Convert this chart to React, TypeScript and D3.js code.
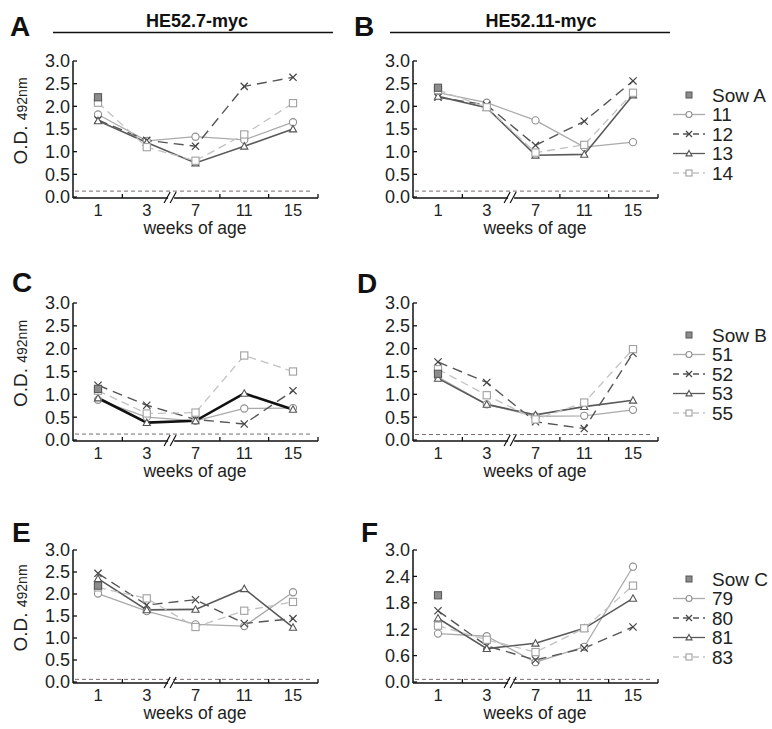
import React from "react";
import * as d3 from "d3";

// weeks of age on the x axis (3 -> 7 has an axis break)
const weeks = ["1", "3", "7", "11", "15"];
const panelLetters = ["A", "B", "C", "D", "E", "F"];
const constructs = ["HE52.7-myc", "HE52.11-myc"];
const sowNames = ["Sow A", "Sow B", "Sow C"];
const pigletIds = [
  ["11", "12", "13", "14"],
  ["51", "52", "53", "55"],
  ["79", "80", "81", "83"],
];
const yTicksA = [0, 0.5, 1, 1.5, 2, 2.5, 3];
const yTicksF = [0, 0.6, 1.2, 1.8, 2.4, 3.0];

// sow value at week 1, one per panel
const sowWeek1 = [2.2, 2.41, 1.12, 1.45, 2.19, 1.97];
// cut-off (dashed line) per panel
const cutoff = [0.13, 0.13, 0.13, 0.12, 0.06, 0.06];

// piglet series per panel: circle, cross, triangle, square
const odA = [
  [1.82, 1.24, 1.33, 1.26, 1.65],
  [1.7, 1.25, 1.12, 2.44, 2.64],
  [1.68, 1.2, 0.75, 1.12, 1.5],
  [2.08, 1.1, 0.8, 1.38, 2.07],
];
const odB = [
  [2.3, 2.08, 1.69, 1.1, 1.21],
  [2.2, 2.03, 1.14, 1.67, 2.56],
  [2.22, 1.97, 0.92, 0.94, 2.25],
  [2.36, 1.98, 0.98, 1.15, 2.3],
];
const odC = [
  [0.88, 0.5, 0.42, 0.69, 0.7],
  [1.2, 0.76, 0.45, 0.35, 1.08],
  [0.92, 0.38, 0.42, 1.02, 0.67],
  [1.08, 0.58, 0.6, 1.85, 1.5],
];
const odD = [
  [1.38, 0.78, 0.52, 0.53, 0.66],
  [1.71, 1.26, 0.4, 0.25, 1.9],
  [1.35, 0.78, 0.55, 0.73, 0.87],
  [1.55, 0.98, 0.45, 0.82, 1.99],
];
const odE = [
  [2.01, 1.61, 1.31, 1.27, 2.04],
  [2.47, 1.75, 1.87, 1.33, 1.44],
  [2.35, 1.64, 1.65, 2.12, 1.24],
  [2.15, 1.9, 1.25, 1.62, 1.82],
];
const odF = [
  [1.1, 1.04, 0.45, 0.8, 2.62],
  [1.62, 0.82, 0.5, 0.77, 1.25],
  [1.45, 0.76, 0.88, 1.22, 1.9],
  [1.28, 0.96, 0.68, 1.22, 2.19],
];
const panelData = [odA, odB, odC, odD, odE, odF];

const FONT = "'Liberation Sans', Arial, sans-serif";

// series look: circle, cross, triangle, square
const styles = [
  { shape: "circle", line: "#aaaaaa", mark: "#8f8f8f", dash: "", width: 1.3 },
  { shape: "cross", line: "#555555", mark: "#444444", dash: "10,6", width: 1.4 },
  { shape: "triangle", line: "#5a5a5a", mark: "#555555", dash: "", width: 1.6 },
  { shape: "square", line: "#c2c2c2", mark: "#a0a0a0", dash: "8,5", width: 1.3 },
];

// panel frames
const layout = [
  { left: 73, top: 61, bottom: 197 },
  { left: 413, top: 61, bottom: 197 },
  { left: 73, top: 303, bottom: 440 },
  { left: 413, top: 303, bottom: 440 },
  { left: 73, top: 550, bottom: 682 },
  { left: 413, top: 550, bottom: 682 },
];
const letterPos = [
  [10, 36], [354, 36], [12, 292], [357, 293], [12, 542], [361, 542],
];
const legendTop = [95, 335, 579];

const Marker = ({ shape, x, y, color, s = 3.6 }) => {
  if (shape === "circle")
    return <circle cx={x} cy={y} r={s} fill="white" stroke={color} strokeWidth={1.1} />;
  if (shape === "square")
    return <rect x={x - s} y={y - s} width={2 * s} height={2 * s} fill="white" stroke={color} strokeWidth={1.1} />;
  if (shape === "triangle")
    return (
      <path
        d={`M${x},${y - s}L${x + s},${y + s * 0.8}L${x - s},${y + s * 0.8}Z`}
        fill="white"
        stroke={color}
        strokeWidth={1.1}
      />
    );
  if (shape === "sow")
    return <rect x={x - s} y={y - s} width={2 * s} height={2 * s} fill="#8c8c8c" stroke="#555" strokeWidth={1} />;
  return (
    <path
      d={`M${x - s},${y - s}L${x + s},${y + s}M${x - s},${y + s}L${x + s},${y - s}`}
      stroke={color}
      strokeWidth={1.2}
    />
  );
};

const Panel = ({ i }) => {
  const { left, top, bottom } = layout[i];
  const data = panelData[i];
  const x = d3.scalePoint<string>().domain(weeks).range([left + 25, left + 220]);
  const y = d3.scaleLinear().domain([0, 3]).range([bottom, top]);
  const ticks = i === 5 ? yTicksF : yTicksA;
  const line = d3
    .line<number>()
    .x((_, k) => x(weeks[k]) as number)
    .y((d) => y(d));
  const axisY = bottom + 1;
  const right = left + 245;
  const mids = weeks.slice(1).map((w, k) => ((x(weeks[k]) as number) + (x(w) as number)) / 2);
  const brk = mids[1];
  const isLeft = i % 2 === 0;
  const [lx, ly] = letterPos[i];

  return (
    <g fontFamily={FONT}>
      <text x={lx} y={ly} fontSize={28} fontWeight="bold" fill="#111">
        {panelLetters[i]}
      </text>
      {i < 2 && (
        <g>
          <text x={i === 0 ? 197 : 541} y={27} fontSize={18} fontWeight="bold" textAnchor="middle" fill="#111">
            {constructs[i]}
          </text>
          <line x1={i === 0 ? 53 : 390} x2={i === 0 ? 333 : 670} y1={32.5} y2={32.5} stroke="#111" strokeWidth={1.5} />
        </g>
      )}
      {isLeft && (
        <text
          transform={`translate(27,${(top + bottom) / 2 - 8}) rotate(-90)`}
          textAnchor="middle"
          fill="#222"
          fontSize={19}
        >
          O.D. <tspan fontSize={14}>492nm</tspan>
        </text>
      )}
      {/* y axis */}
      <line x1={left} x2={left} y1={top} y2={axisY} stroke="#111" strokeWidth={1.5} />
      {ticks.map((t) => (
        <g key={t}>
          <line x1={left} x2={left + 4} y1={y(t)} y2={y(t)} stroke="#111" strokeWidth={1.3} />
          <text x={left - 3} y={y(t)} dy="0.36em" textAnchor="end" fontSize={18} fill="#222">
            {t.toFixed(1)}
          </text>
        </g>
      ))}
      {/* cut-off */}
      <line
        x1={left + 2}
        x2={right - 5}
        y1={y(cutoff[i])}
        y2={y(cutoff[i])}
        stroke="#7a6a72"
        strokeWidth={1}
        strokeDasharray="4,3"
      />
      {/* x axis */}
      <line x1={left} x2={right} y1={axisY} y2={axisY} stroke="#111" strokeWidth={1.5} />
      <line x1={right} x2={right} y1={axisY} y2={axisY - 4} stroke="#111" strokeWidth={1.3} />
      {mids.map((m, k) =>
        k === 1 ? null : (
          <line key={k} x1={m} x2={m} y1={axisY} y2={axisY - 4} stroke="#111" strokeWidth={1.3} />
        )
      )}
      <rect x={brk - 3} y={axisY - 2} width={6} height={4} fill="white" />
      <path
        d={`M${brk - 7},${axisY + 5}L${brk - 1},${axisY - 6}M${brk - 1},${axisY + 5}L${brk + 5},${axisY - 6}`}
        stroke="#111"
        strokeWidth={1.2}
      />
      {weeks.map((w) => (
        <text key={w} x={x(w)} y={axisY + 18} textAnchor="middle" fontSize={16.5} fill="#222">
          {w}
        </text>
      ))}
      <text x={left + 122} y={axisY + 36} textAnchor="middle" fontSize={17.5} fill="#222">
        weeks of age
      </text>
      {/* series */}
      {data.map((s, k) => (
        <path
          key={k}
          d={line(s) as string}
          fill="none"
          stroke={i === 2 && k === 2 ? "#111" : styles[k].line}
          strokeWidth={i === 2 && k === 2 ? 2.6 : styles[k].width}
          strokeDasharray={styles[k].dash}
        />
      ))}
      {data.map((s, k) =>
        s.map((v, j) => (
          <Marker key={`${k}-${j}`} shape={styles[k].shape} x={x(weeks[j]) as number} y={y(v)} color={styles[k].mark} />
        ))
      )}
      <Marker shape="sow" x={x(weeks[0]) as number} y={y(sowWeek1[i])} color="#555" />
    </g>
  );
};

const Legend = ({ r }) => {
  const y0 = legendTop[r];
  const rows = [sowNames[r], ...pigletIds[r]];
  return (
    <g fontFamily={FONT}>
      {rows.map((name, k) => {
        const yy = y0 + k * 19.5;
        const st = k === 0 ? null : styles[k - 1];
        return (
          <g key={name}>
            {st && (
              <line
                x1={673}
                x2={705}
                y1={yy}
                y2={yy}
                stroke={st.line}
                strokeWidth={1.3}
                strokeDasharray={st.dash ? "6,4" : ""}
              />
            )}
            <Marker shape={k === 0 ? "sow" : st.shape} x={689} y={yy} color={st ? st.mark : "#555"} s={3} />
            <text x={712} y={yy} dy="0.36em" fontSize={19} fill="#222">
              {name}
            </text>
          </g>
        );
      })}
    </g>
  );
}

export default function App() {
  return (
    <svg width={772} height={729} style={{ position: "absolute", left: 0, top: 0, background: "white" }}>
      <rect width={772} height={729} fill="white" />
      {panelLetters.map((_, i) => (
        <Panel key={i} i={i} />
      ))}
      {[0, 1, 2].map((r) => (
        <Legend key={r} r={r} />
      ))}
    </svg>
  );
}
